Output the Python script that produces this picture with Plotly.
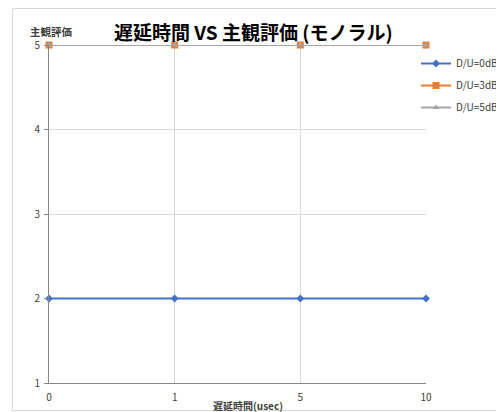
import plotly.graph_objects as go

categories = ["0", "1", "5", "10"]
du_0db = [2, 2, 2, 2]
du_3db = [5, 5, 5, 5]
du_5db = [5, 5, 5, 5]
series_names = ["D/U=0dB", "D/U=3dB", "D/U=5dB"]
y_ticks = [1, 2, 3, 4, 5]

# page body has an 8px margin; work in screen pixels and convert
OFF = 8
W, H = 504 - OFF, 412 - OFF
PL, PR, PT, PB = 49, 426, 45, 383  # plot area in screen px
L, R, T, B = PL - OFF, W - (PR - OFF), PT - OFF, H - (PB - OFF)
pw, ph = W - L - R, H - T - B

font_family = "Noto Sans CJK JP, Noto Sans, sans-serif"

fig = go.Figure()
fig.add_trace(go.Scatter(x=categories, y=du_0db, name=series_names[0], mode="lines+markers",
                         legendgroup="a",
                         line=dict(color="#4472C4", width=2),
                         marker=dict(symbol="diamond", size=6, color="#4472C4"), cliponaxis=False))
fig.add_trace(go.Scatter(x=categories, y=du_3db, name=series_names[1], mode="lines+markers",
                         legendgroup="b",
                         line=dict(color="#ED7D31", width=2),
                         marker=dict(symbol="square", size=7, color="#ED7D31"), cliponaxis=False))
fig.add_trace(go.Scatter(x=categories, y=du_5db, name=series_names[2], mode="lines+markers",
                         legendgroup="c",
                         line=dict(color="#A5A5A5", width=2),
                         marker=dict(symbol="triangle-up", size=6, color="#A5A5A5"), cliponaxis=False))

def px_x(x):
    return (x - PL) / pw

def px_y(y):
    return (PB - y) / ph

fig.update_layout(
    width=W, height=H,
    margin=dict(l=L, r=R, t=T, b=B, autoexpand=False),
    paper_bgcolor="white", plot_bgcolor="white",
    font=dict(family=font_family, size=10, color="#404040"),
    xaxis=dict(type="category", range=[0, 3], showgrid=True, gridcolor="#D9D9D9", gridwidth=1,
               showline=True, linecolor="#868686", linewidth=1, ticks="", tickfont=dict(size=10, color="#404040"),
               ticklabelstandoff=5, zeroline=False, fixedrange=True),
    yaxis=dict(range=[1, 5], tickvals=y_ticks, showgrid=True, gridcolor="#D9D9D9", gridwidth=1,
               showline=True, linecolor="#868686", linewidth=1, ticks="outside", ticklen=4, tickcolor="#868686",
               ticklabelstandoff=2, tickfont=dict(size=10, color="#404040"), zeroline=False),
    legend=dict(x=px_x(416), y=px_y(49), xanchor="left", yanchor="top", font=dict(size=10, color="#404040"),
                itemwidth=30, bgcolor="rgba(0,0,0,0)", tracegroupgap=3),
    showlegend=True,
)

fig.add_annotation(text="<b>遅延時間 VS 主観評価 (モノラル)</b>", x=px_x(253), y=px_y(32),
                   xref="paper", yref="paper", xanchor="center", yanchor="middle", showarrow=False,
                   font=dict(size=19, color="#000000", family=font_family))
fig.add_annotation(text="<b>主観評価</b>", x=px_x(51), y=px_y(32), xref="paper", yref="paper",
                   xanchor="center", yanchor="middle", showarrow=False,
                   font=dict(size=10.5, color="#404040", family=font_family))
fig.add_annotation(text="<b>遅延時間(usec)</b>", x=px_x(248), y=px_y(405), xref="paper", yref="paper",
                   xanchor="center", yanchor="middle", showarrow=False,
                   font=dict(size=10, color="#404040", family=font_family))

fig.add_shape(type="rect", xref="paper", yref="paper",
              x0=px_x(12.5), x1=px_x(498.5), y0=px_y(410.5), y1=px_y(8.5),
              line=dict(color="#D9D9D9", width=1), layer="below")

fig.write_html("out.html")
